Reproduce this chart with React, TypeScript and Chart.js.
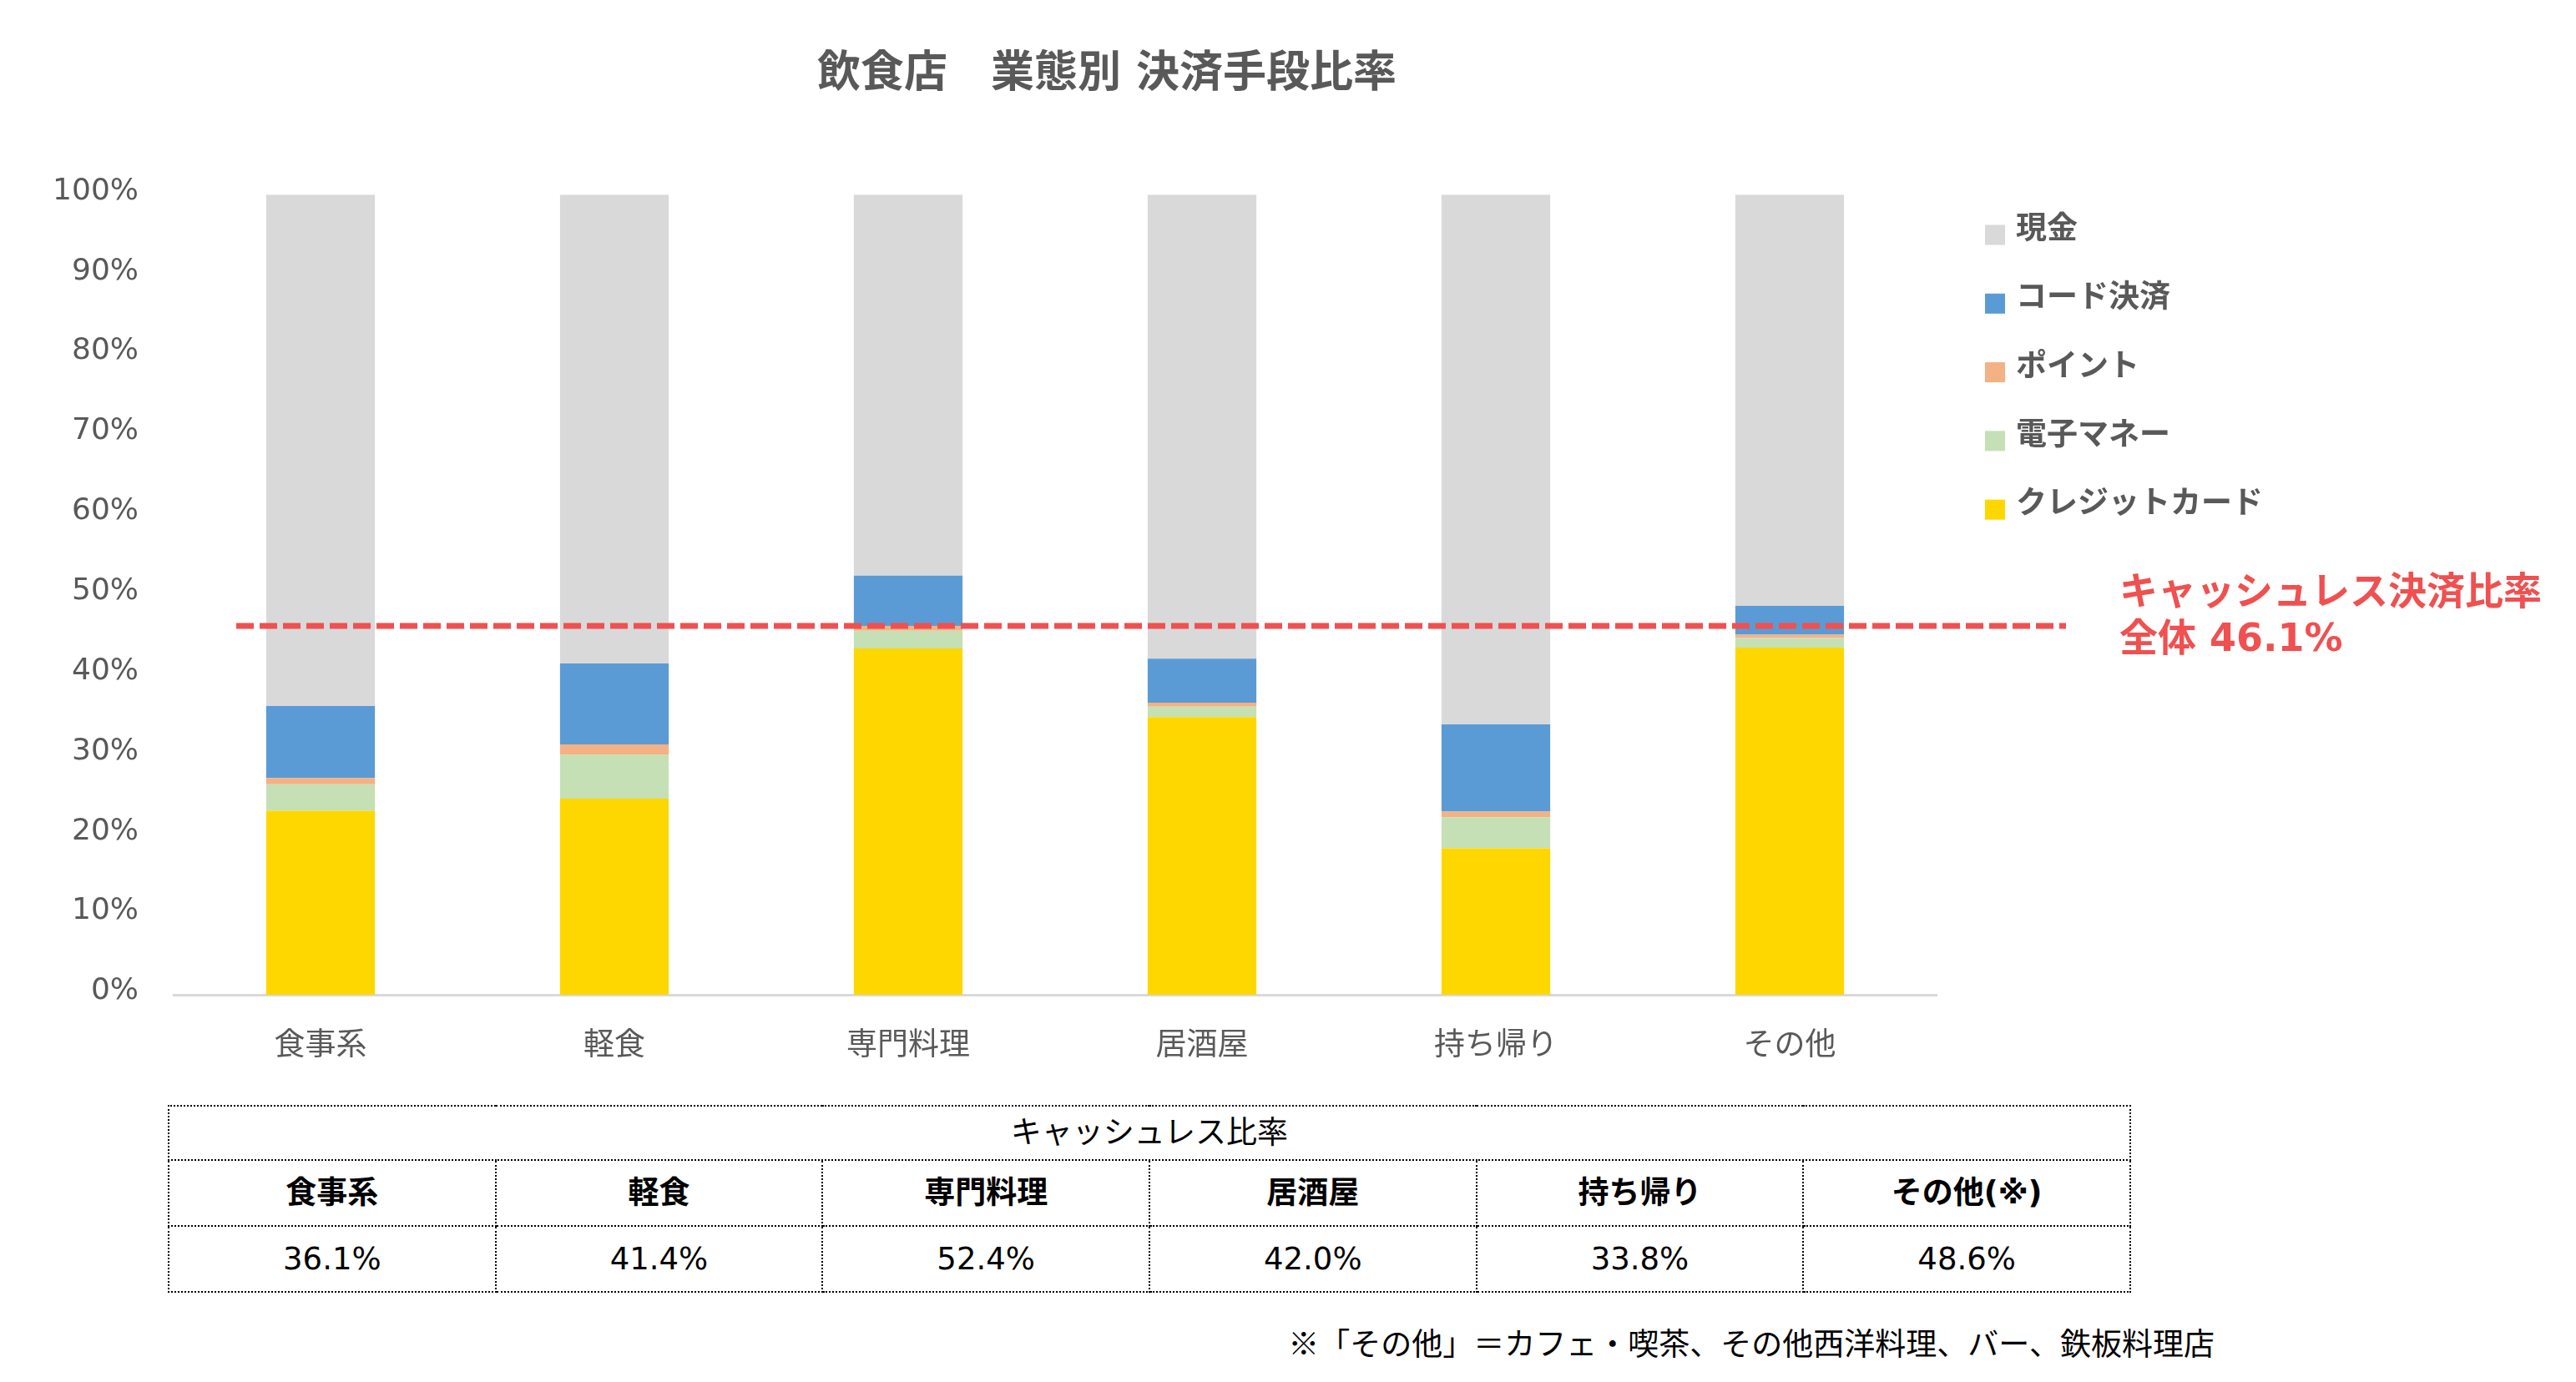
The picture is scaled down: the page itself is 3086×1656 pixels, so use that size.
import React, { useEffect, useRef } from 'react';
import { Chart, registerables } from 'chart.js';

Chart.register(...registerables);

// ---- data ----
const TITLE = '飲食店　業態別 決済手段比率';
const categories = ['食事系', '軽食', '専門料理', '居酒屋', '持ち帰り', 'その他'];
const creditCard = [23.0, 24.5, 43.3, 34.7, 18.3, 43.4];
const eMoney = [3.3, 5.5, 2.2, 1.3, 3.9, 1.2];
const points = [0.8, 1.3, 0.6, 0.5, 0.7, 0.4];
const codePay = [9.0, 10.1, 6.3, 5.5, 10.9, 3.6];
const cash = [63.9, 58.6, 47.6, 58.0, 66.2, 51.4];
const yTicks = [0, 10, 20, 30, 40, 50, 60, 70, 80, 90, 100];
const OVERALL = 46.1;
const ANNOTATION = 'キャッシュレス決済比率';
const tableTitle = 'キャッシュレス比率';
const tableHeaders = ['食事系', '軽食', '専門料理', '居酒屋', '持ち帰り', 'その他(※)'];
const cashlessRates = [36.1, 41.4, 52.4, 42.0, 33.8, 48.6];
const FOOTNOTE = '※「その他」＝カフェ・喫茶、その他西洋料理、バー、鉄板料理店';

const W = 3086;
const H = 1300;
const GRAY = '#595959';
const RED = '#F05050';
const FONT = '"DejaVu Sans", "Noto Sans CJK JP", sans-serif';

export default function App() {
  const ref = useRef<HTMLCanvasElement | null>(null);

  useEffect(() => {
    const canvas = ref.current;
    if (!canvas) return;

    const overlay = {
      id: 'overlay',
      afterDraw(chart: any) {
        const ctx = chart.ctx as CanvasRenderingContext2D;
        ctx.save();
        // title
        ctx.font = `bold 52px ${FONT}`;
        ctx.fillStyle = GRAY;
        ctx.textAlign = 'center';
        ctx.textBaseline = 'middle';
        ctx.fillText(TITLE, 1326, 90);

        // dashed overall line
        const y = chart.scales.y.getPixelForValue(OVERALL);
        ctx.beginPath();
        ctx.setLineDash([21, 7]);
        ctx.lineWidth = 7;
        ctx.strokeStyle = RED;
        ctx.moveTo(283, y);
        ctx.lineTo(2475, y);
        ctx.stroke();
        ctx.setLineDash([]);

        // annotation
        ctx.font = `bold 46px ${FONT}`;
        ctx.fillStyle = RED;
        ctx.textAlign = 'left';
        ctx.textBaseline = 'middle';
        ctx.fillText(ANNOTATION, 2539, 712);
        ctx.fillText(`全体 ${OVERALL}%`, 2539, 768);

        // legend
        const ds = [...chart.data.datasets].reverse();
        ctx.font = `bold 37px ${FONT}`;
        ds.forEach((d: any, i: number) => {
          const cy = 281.5 + i * 82.3;
          ctx.fillStyle = d.backgroundColor;
          ctx.fillRect(2378, cy - 12, 24, 24);
          ctx.fillStyle = GRAY;
          ctx.fillText(d.label, 2415, cy - 5);
        });
        ctx.restore();
      },
    };

    const chart = new Chart(canvas, {
      type: 'bar',
      data: {
        labels: categories,
        datasets: [
          { label: 'クレジットカード', data: creditCard, backgroundColor: '#FFD700' },
          { label: '電子マネー', data: eMoney, backgroundColor: '#C5E0B4' },
          { label: 'ポイント', data: points, backgroundColor: '#F4B183' },
          { label: 'コード決済', data: codePay, backgroundColor: '#5B9BD5' },
          { label: '現金', data: cash, backgroundColor: '#D9D9D9' },
        ],
      },
      options: {
        animation: false,
        responsive: false,
        devicePixelRatio: 1,
        layout: { padding: { left: 0, top: 233.3, right: W - 2320, bottom: 0 } },
        datasets: { bar: { categoryPercentage: 1, barPercentage: 0.37, borderWidth: 0 } },
        plugins: {
          legend: { display: false },
          title: { display: false },
          tooltip: { enabled: false },
        },
        scales: {
          x: {
            stacked: true,
            grid: { display: false, drawTicks: false },
            border: { display: true, color: '#D9D9D9', width: 3 },
            ticks: { color: GRAY, font: { family: FONT, size: 37 }, padding: 40 },
            afterFit: (s: any) => { s.height = H - 1192; },
          },
          y: {
            stacked: true,
            min: 0,
            max: 100,
            grid: { display: false, drawTicks: false },
            border: { display: false },
            afterBuildTicks: (s: any) => { s.ticks = yTicks.map((v) => ({ value: v })); },
            ticks: {
              color: GRAY,
              font: { family: FONT, size: 36 },
              padding: 42,
              labelOffset: -4,
              callback: (v: any) => `${v}%`,
            },
            afterFit: (s: any) => { s.width = 208; },
          },
        },
      },
      plugins: [overlay],
    });
    return () => chart.destroy();
  }, []);

  const cell: React.CSSProperties = {
    border: '2px dotted #000',
    textAlign: 'center',
    verticalAlign: 'middle',
    padding: 0,
    lineHeight: 1,
  };

  return (
    <div style={{ position: 'fixed', left: 0, top: 0, width: W, height: 1656, background: '#fff', overflow: 'hidden' }}>
      <canvas ref={ref} width={W} height={H} style={{ position: 'absolute', left: 0, top: 0, width: W, height: H }} />
      <table
        style={{
          position: 'absolute', left: 201, top: 1324, width: 2352, borderCollapse: 'collapse', tableLayout: 'fixed',
          fontFamily: FONT, fontSize: 37, color: '#000',
        }}
      >
        <tbody>
          <tr style={{ height: 65 }}>
            <td colSpan={6} style={cell}>{tableTitle}</td>
          </tr>
          <tr style={{ height: 79 }}>
            {tableHeaders.map((h) => (
              <td key={h} style={{ ...cell, fontWeight: 'bold' }}>{h}</td>
            ))}
          </tr>
          <tr style={{ height: 79 }}>
            {cashlessRates.map((v, i) => (
              <td key={i} style={cell}>{v.toFixed(1)}%</td>
            ))}
          </tr>
        </tbody>
      </table>
      <div
        style={{
          position: 'absolute', top: 1586, right: W - 2653, fontFamily: '"Noto Sans CJK JP", sans-serif',
          fontSize: 37, lineHeight: '44px', color: '#000', whiteSpace: 'nowrap', textAlign: 'right',
        }}
      >
        {FOOTNOTE}
      </div>
    </div>
  );
}
